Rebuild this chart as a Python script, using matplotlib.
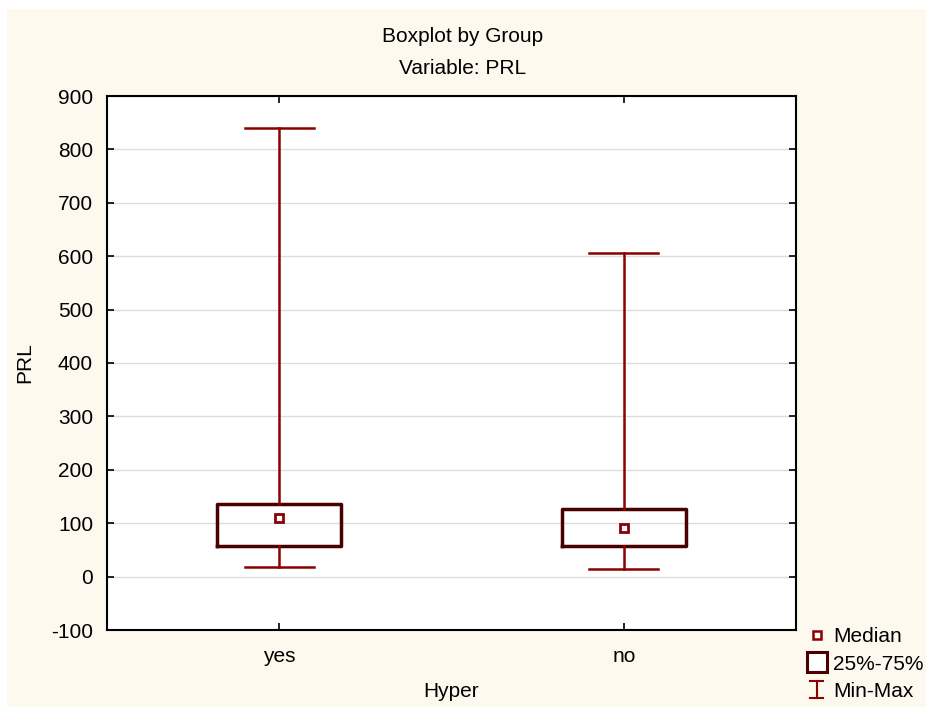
import matplotlib
matplotlib.use('Agg')
import matplotlib.pyplot as plt
from matplotlib.patches import Rectangle
from matplotlib.lines import Line2D
from matplotlib.legend_handler import HandlerBase

plt.rcParams['font.family'] = ['Liberation Sans', 'DejaVu Sans']
plt.rcParams['axes.unicode_minus'] = False

# 数据
groups = ['yes', 'no']
mins = [18, 14]
q1 = [57, 57]
medians = [110, 91]
q3 = [136, 126]
maxs = [840, 606]

box_col = '#4a0000'
whisk_col = '#8b0000'
fs = 15

fig = plt.figure(figsize=(9.26, 7.07), dpi=100)
fig.patch.set_facecolor('white')
fig.patches.append(Rectangle((7/926, 0), 1, 1 - 9/707, transform=fig.transFigure,
                             facecolor='#fdf9ef', edgecolor='none', zorder=-10))

ax = fig.add_axes([107/926, 1 - 630/707, (796-107)/926, (630-96)/707])
ax.set_facecolor('white')

stats = []
for i, g in enumerate(groups):
    stats.append({'label': g, 'whislo': mins[i], 'q1': q1[i], 'med': medians[i],
                  'q3': q3[i], 'whishi': maxs[i], 'fliers': []})

pos = list(range(1, len(groups) + 1))
ax.bxp(stats, positions=pos, widths=0.36, showfliers=False,
       boxprops=dict(color=box_col, linewidth=2.5),
       whiskerprops=dict(color=whisk_col, linewidth=1.8),
       capprops=dict(color=whisk_col, linewidth=1.8),
       medianprops=dict(visible=False), capwidths=0.2, zorder=3)
ax.plot(pos, medians, 's', ms=6, mfc='white', mec=whisk_col, mew=2, ls='none', zorder=4)

ax.set_xlim(0.5, 2.5)
ax.set_ylim(-100, 900)
ax.set_yticks(range(-100, 901, 100))
ax.set_xticks(pos)
ax.set_xticklabels(groups)
ax.grid(axis='y', color='#dddddd', linewidth=1)
ax.set_axisbelow(True)
ax.tick_params(direction='in', top=True, right=True, labelsize=fs, length=5, width=1.2)
ax.tick_params(axis='y', pad=10)
ax.tick_params(axis='x', pad=12)
for s in ax.spines.values():
    s.set_linewidth(1.5)
ax.set_xlabel('Hyper', fontsize=fs, labelpad=12)
ax.set_ylabel('PRL', fontsize=fs, labelpad=12)

fig.text(0.5, 1 - 37/707, 'Boxplot by Group', ha='center', va='center', fontsize=fs)
fig.text(0.5, 1 - 69/707, 'Variable: PRL', ha='center', va='center', fontsize=fs)


class IBeamHandler(HandlerBase):
    def create_artists(self, legend, orig, xd, yd, w, h, fontsize, trans):
        cx = xd + w / 2
        hw = 5
        y0, y1 = yd - 1, yd + h + 1
        a = Line2D([cx, cx], [y0, y1], color=whisk_col, lw=1.5, transform=trans)
        b = Line2D([cx - hw, cx + hw], [y1, y1], color=whisk_col, lw=1.5, transform=trans)
        c = Line2D([cx - hw, cx + hw], [y0, y0], color=whisk_col, lw=1.5, transform=trans)
        return [a, b, c]


h_med = Line2D([], [], marker='s', ms=6, mfc='white', mec=whisk_col, mew=1.8, ls='none')
h_box = Line2D([], [], marker='s', ms=15, mfc='white', mec=box_col, mew=2.2, ls='none')
h_mm = Line2D([], [])
fig.legend([h_med, h_box, h_mm], ['Median', '25%-75%', 'Min-Max'],
           handler_map={h_mm: IBeamHandler()},
           loc='lower left', bbox_to_anchor=(803/926, 2/707), frameon=False,
           fontsize=fs, handlelength=0.9, handletextpad=0.35, labelspacing=0.4,
           borderaxespad=0.0, borderpad=0.2)

fig.savefig('out.png', dpi=100)
